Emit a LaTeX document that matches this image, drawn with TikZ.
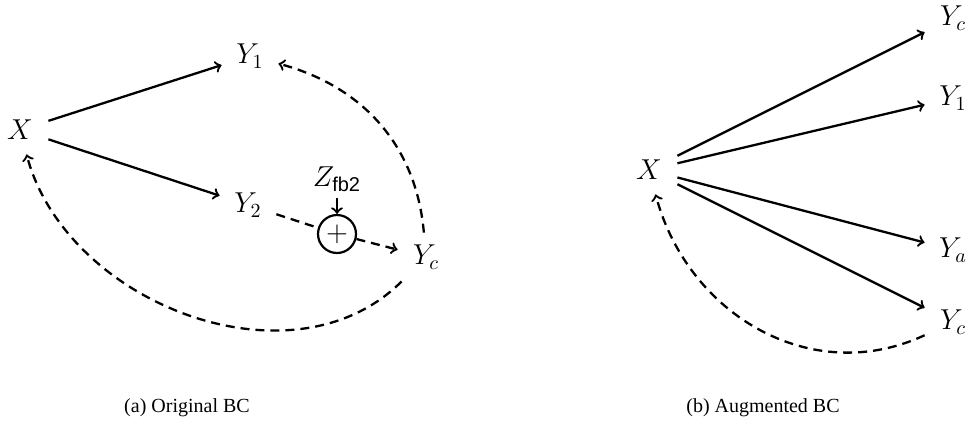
\documentclass[tikz,border=0pt]{standalone}
\usepackage{amsmath}
\usepackage[no-math]{fontspec}
\setmainfont{Liberation Serif}
\setsansfont{Liberation Sans}
\usepackage{tikz}
\usetikzlibrary{positioning}
\tikzstyle{rv} = [rectangle, minimum width=28pt, minimum height=24pt, inner sep=2pt, font=\Large]
\tikzstyle{adder} = [circle, draw, line width=1.1pt, minimum size=19pt, inner sep=0pt, font=\Large]
\tikzstyle{captext} = [font=\normalsize]
\tikzstyle{arrow} = [line width=1.15pt,->]
\tikzstyle{dasharrow} = [line width=1.15pt,dash pattern=on 4.5pt off 3pt,->]

\begin{document}
\begin{tikzpicture}[x=0.5pt, y=0.5pt]
\useasboundingbox (0,0) rectangle (967,430);

% (a) original BC
\node (xa) [rv] at (20,300) {$X$};
\node (y1a) [rv] at (250,374) {$Y_1$};
\node (y2a) [rv] at (248,225) {$Y_2$};
\node (sum) [adder] at (337,196) {$+$};
\node (zfb) [above=8pt of sum, inner sep=3pt, font=\Large] {$Z_{\textsf{fb2}}$};
\node (yca) [rv] at (426,173) {$Y_c$};

\draw [arrow] (xa) -- (y1a);
\draw [arrow] (xa) -- (y2a);
\draw [dasharrow,-] (y2a) -- (sum);
\draw [dasharrow] (sum) -- (yca);
\draw [arrow] (zfb) -- (sum);
\draw [dasharrow] (yca) to[out=95, in=-15] (y1a);
\draw [dasharrow] (yca) to[out=-135, in=-75] (xa);

% (b) augmented BC
\node (xb) [rv] at (649,260) {$X$};
\node (ycb) [rv] at (953,412) {$Y_c$};
\node (y1b) [rv] at (953,332) {$Y_1$};
\node (yab) [rv] at (953,180) {$Y_a$};
\node (ycb2) [rv] at (953,108) {$Y_c$};

\draw [arrow] (xb) -- (ycb);
\draw [arrow] (xb) -- (y1b);
\draw [arrow] (xb) -- (yab);
\draw [arrow] (xb) -- (ycb2);
\draw [dasharrow] (ycb2) to[out=-155, in=-75, looseness=1.05] (xb);

% captions
\node (capa) [captext] at (187,22) {(a) Original BC};
\node (capb) [captext] at (763,22) {(b) Augmented BC};

\end{tikzpicture}
\end{document}
